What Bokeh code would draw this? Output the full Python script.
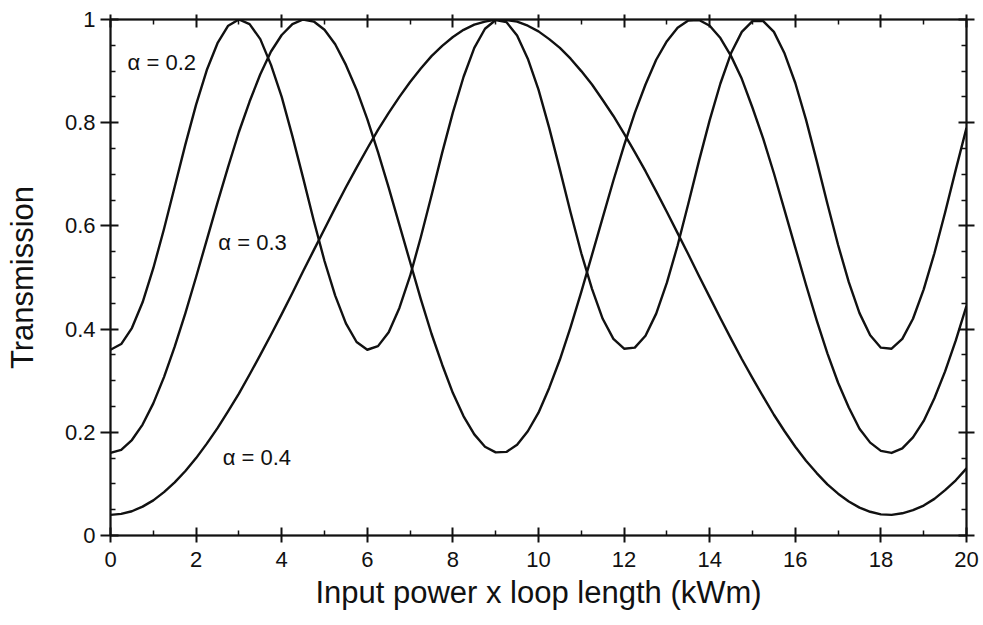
from bokeh.plotting import figure
from bokeh.models import LinearAxis, FixedTicker, Label, Range1d
from bokeh.embed import file_html
from bokeh.resources import INLINE

# ---- data ----
x_vals = [0.0, 0.25, 0.5, 0.75, 1.0, 1.25, 1.5, 1.75, 2.0, 2.25, 2.5, 2.75, 3.0,
          3.25, 3.5, 3.75, 4.0, 4.25, 4.5, 4.75, 5.0, 5.25, 5.5, 5.75, 6.0,
          6.25, 6.5, 6.75, 7.0, 7.25, 7.5, 7.75, 8.0, 8.25, 8.5, 8.75, 9.0,
          9.25, 9.5, 9.75, 10.0, 10.25, 10.5, 10.75, 11.0, 11.25, 11.5, 11.75, 12.0,
          12.25, 12.5, 12.75, 13.0, 13.25, 13.5, 13.75, 14.0, 14.25, 14.5, 14.75, 15.0,
          15.25, 15.5, 15.75, 16.0, 16.25, 16.5, 16.75, 17.0, 17.25, 17.5, 17.75, 18.0,
          18.25, 18.5, 18.75, 19.0, 19.25, 19.5, 19.75, 20.0]

t_alpha02 = [0.360, 0.371, 0.402, 0.452, 0.518, 0.594, 0.676, 0.758, 0.835, 0.902, 0.954, 0.988, 1.000,
             0.991, 0.962, 0.912, 0.850, 0.774, 0.693, 0.610, 0.532, 0.465, 0.411, 0.375, 0.360,
             0.367, 0.394, 0.441, 0.503, 0.578, 0.659, 0.742, 0.820, 0.889, 0.945, 0.982, 0.999,
             0.995, 0.969, 0.924, 0.864, 0.790, 0.709, 0.626, 0.547, 0.478, 0.420, 0.381, 0.362,
             0.364, 0.387, 0.430, 0.490, 0.562, 0.643, 0.726, 0.805, 0.876, 0.935, 0.976, 0.997,
             0.997, 0.976, 0.934, 0.877, 0.806, 0.726, 0.643, 0.563, 0.491, 0.431, 0.388, 0.364,
             0.362, 0.381, 0.420, 0.477, 0.547, 0.626, 0.709, 0.790]

t_alpha03 = [0.160, 0.166, 0.185, 0.215, 0.256, 0.307, 0.366, 0.431, 0.501, 0.573, 0.645, 0.715, 0.782,
             0.841, 0.894, 0.938, 0.970, 0.991, 1.000, 0.996, 0.980, 0.952, 0.912, 0.864, 0.807,
             0.743, 0.674, 0.602, 0.530, 0.458, 0.391, 0.331, 0.276, 0.231, 0.196, 0.172, 0.161,
             0.162, 0.176, 0.202, 0.238, 0.286, 0.341, 0.404, 0.472, 0.544, 0.616, 0.688, 0.756,
             0.819, 0.874, 0.922, 0.958, 0.984, 0.998, 0.999, 0.988, 0.964, 0.929, 0.885, 0.829,
             0.769, 0.702, 0.630, 0.558, 0.486, 0.417, 0.353, 0.296, 0.248, 0.207, 0.180, 0.164,
             0.160, 0.169, 0.190, 0.222, 0.266, 0.318, 0.378, 0.445]

t_alpha04 = [0.040, 0.042, 0.047, 0.056, 0.068, 0.084, 0.103, 0.125, 0.150, 0.178, 0.208, 0.241, 0.275,
             0.312, 0.350, 0.389, 0.429, 0.470, 0.512, 0.553, 0.594, 0.635, 0.675, 0.713, 0.750,
             0.786, 0.819, 0.850, 0.879, 0.905, 0.929, 0.949, 0.966, 0.980, 0.990, 0.996, 1.000,
             0.999, 0.996, 0.988, 0.977, 0.962, 0.945, 0.924, 0.900, 0.874, 0.844, 0.813, 0.779,
             0.743, 0.706, 0.667, 0.627, 0.586, 0.545, 0.503, 0.462, 0.421, 0.381, 0.342, 0.305,
             0.269, 0.234, 0.202, 0.172, 0.145, 0.121, 0.099, 0.081, 0.066, 0.054, 0.046, 0.041,
             0.040, 0.043, 0.049, 0.058, 0.071, 0.088, 0.107, 0.130]

curve_labels = ["\u03b1 = 0.2", "\u03b1 = 0.3", "\u03b1 = 0.4"]

x_ticks = [0, 2, 4, 6, 8, 10, 12, 14, 16, 18, 20]
x_minor_ticks = [1, 3, 5, 7, 9, 11, 13, 15, 17, 19]
y_ticks = [0, 0.2, 0.4, 0.6, 0.8, 1]
y_tick_labels = ["0", "0.2", "0.4", "0.6", "0.8", "1"]
y_minor_ticks = [0.05, 0.1, 0.15, 0.25, 0.3, 0.35, 0.45, 0.5, 0.55,
                 0.65, 0.7, 0.75, 0.85, 0.9, 0.95]

x_label = "Input power x loop length (kWm)"
y_label = "Transmission"

# ---- figure ----
FONT = "Liberation Sans"
INK = "#111111"

p = figure(width=983, height=625, output_backend="svg", toolbar_location=None,
           x_range=Range1d(0, 20), y_range=Range1d(0, 1),
           min_border_left=110, min_border_right=17,
           min_border_top=19, min_border_bottom=90)
p.background_fill_color = "white"
p.border_fill_color = "white"
p.xgrid.visible = False
p.ygrid.visible = False
p.outline_line_color = INK
p.outline_line_width = 1.5


def style_axis(ax, labels=True):
    ax.axis_line_color = INK
    ax.axis_line_width = 2
    ax.major_tick_line_color = INK
    ax.major_tick_line_width = 2
    ax.major_tick_in = 8
    ax.major_tick_out = 9
    ax.minor_tick_line_color = INK
    ax.minor_tick_line_width = 1.5
    ax.minor_tick_in = 5
    ax.minor_tick_out = 0
    ax.major_label_text_font = FONT
    if labels:
        ax.major_label_text_color = INK
        ax.major_label_text_font_size = "22px"
    else:
        ax.major_label_text_color = None
        ax.major_label_text_font_size = "1px"
        ax.major_label_standoff = 0
    ax.axis_label_text_font = FONT
    ax.axis_label_text_font_style = "normal"
    ax.axis_label_text_color = INK
    ax.axis_label_text_font_size = "31px"


xt = FixedTicker(ticks=x_ticks, minor_ticks=x_minor_ticks)
yt = FixedTicker(ticks=y_ticks, minor_ticks=y_minor_ticks)

xa = p.xaxis[0]
xa.ticker = xt
style_axis(xa)
xa.axis_label = x_label
xa.major_label_standoff = 9
xa.axis_label_standoff = 5
xa.major_tick_out = 7

ya = p.yaxis[0]
ya.ticker = yt
style_axis(ya)
ya.axis_label = y_label
ya.major_label_overrides = {t: s for t, s in zip(y_ticks, y_tick_labels)}
ya.major_label_standoff = 5
ya.major_tick_out = 10
ya.axis_label_standoff = 22

top = LinearAxis(ticker=FixedTicker(ticks=x_ticks, minor_ticks=x_minor_ticks))
style_axis(top, labels=False)
top.major_tick_out = 5
p.add_layout(top, "above")

right = LinearAxis(ticker=FixedTicker(ticks=y_ticks, minor_ticks=y_minor_ticks))
style_axis(right, labels=False)
right.major_tick_out = 8
p.add_layout(right, "right")

for ys in (t_alpha02, t_alpha03, t_alpha04):
    p.line(x_vals, ys, line_color=INK, line_width=2.4, line_join="round")

label_pos = [(0.40, 0.917), (2.52, 0.568), (2.62, 0.151)]
for (lx, ly), txt in zip(label_pos, curve_labels):
    p.add_layout(Label(x=lx, y=ly, text=txt, text_font=FONT, text_font_size="22px",
                       text_color=INK, text_baseline="middle", text_align="left"))

open("out.html", "w").write(file_html(p, INLINE))
